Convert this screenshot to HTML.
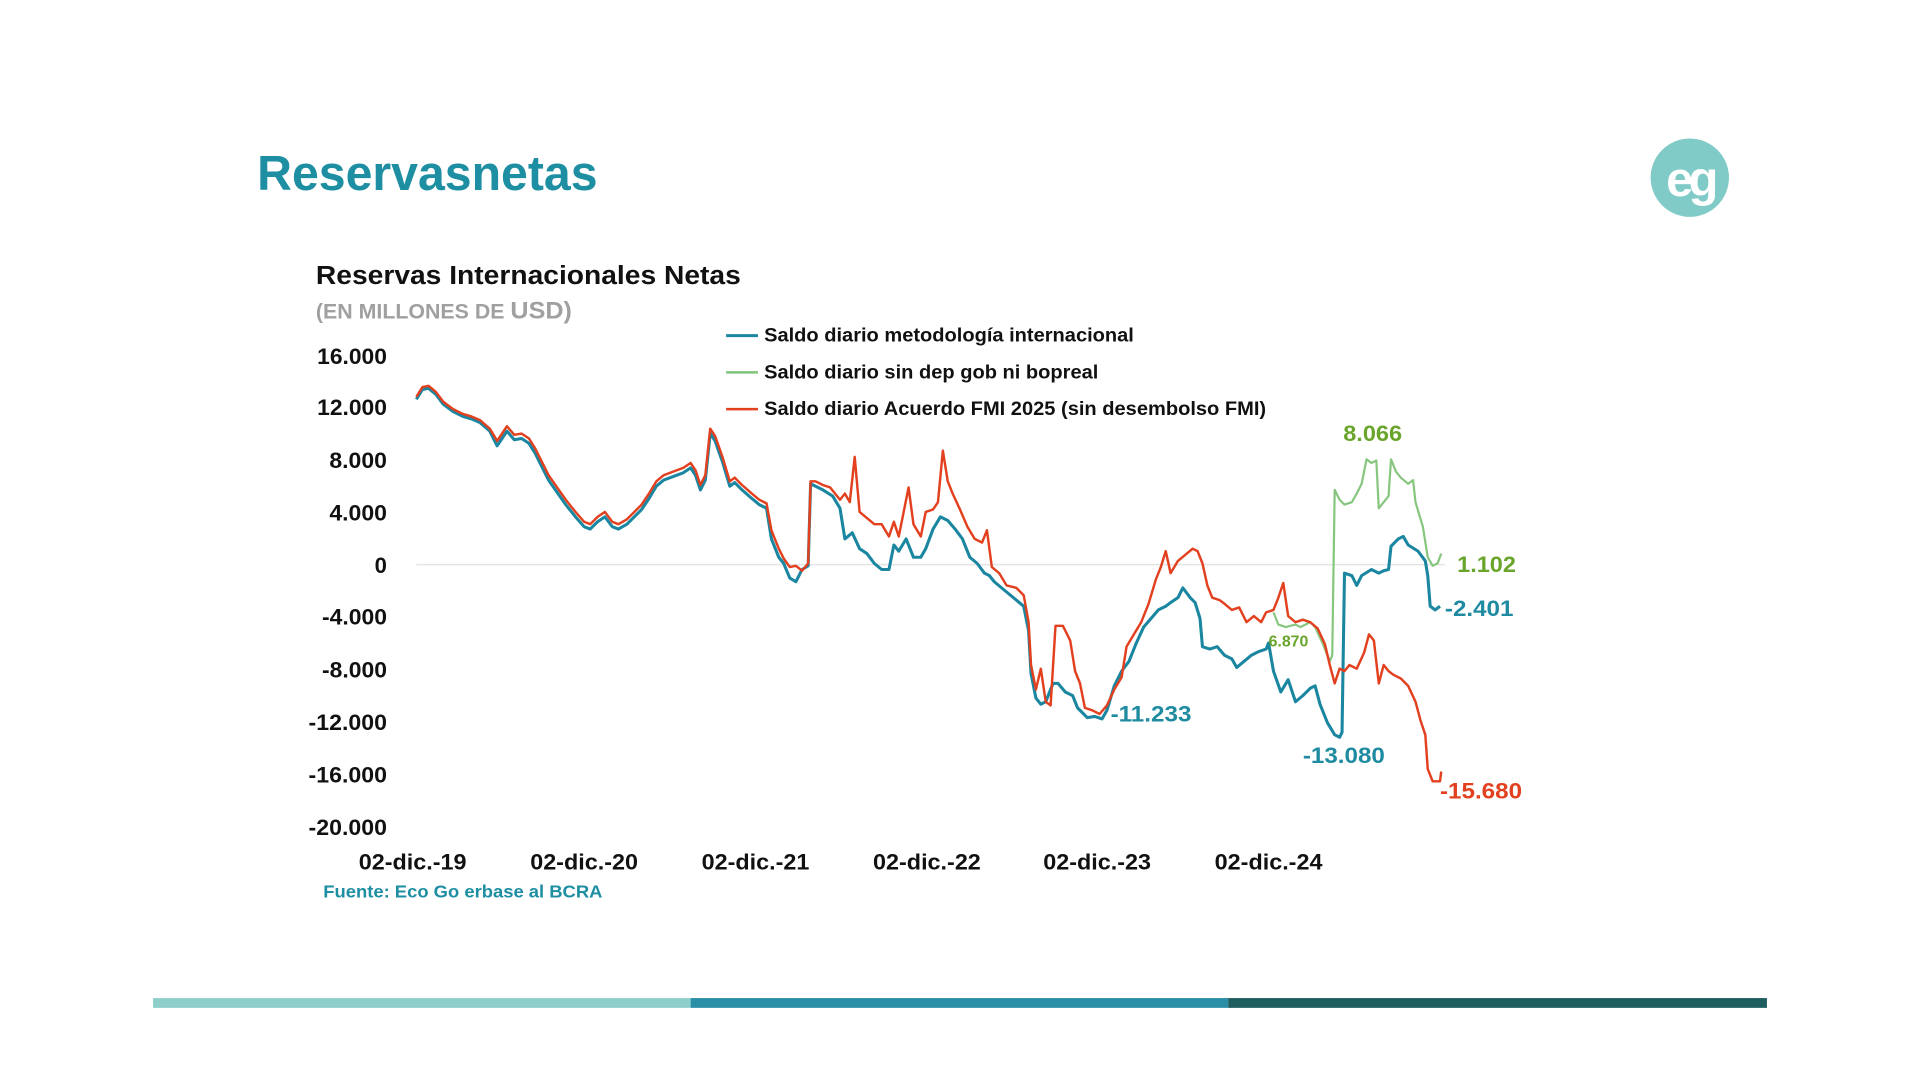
<!DOCTYPE html>
<html><head><meta charset="utf-8"><style>html,body{margin:0;padding:0;background:#fff;}svg{display:block}</style></head>
<body>
<svg width="1920" height="1079" viewBox="0 0 1568 881" xmlns="http://www.w3.org/2000/svg" font-family="Liberation Sans, Arial, sans-serif">
<rect width="1568" height="881" fill="#fff"/>
<text x="210" y="155" font-size="40" font-weight="bold" fill="#1e8ea2" textLength="278" lengthAdjust="spacingAndGlyphs">Reservasnetas</text>
<circle cx="1380" cy="145" r="32" fill="#80cac7"/>
<text x="1380" y="160" font-size="40" fill="#fff" text-anchor="middle" font-weight="bold" letter-spacing="-4">eg</text>
<text x="258" y="232" font-size="21" font-weight="bold" fill="#111" textLength="347" lengthAdjust="spacingAndGlyphs">Reservas Internacionales Netas</text>
<text x="258" y="260" font-size="17" font-weight="bold" fill="#a0a0a0" textLength="209" lengthAdjust="spacingAndGlyphs">(EN MILLONES DE <tspan font-size="20">USD)</tspan></text>
<g font-size="18" font-weight="bold" fill="#111" text-anchor="end">
<text x="316" y="297" textLength="57" lengthAdjust="spacingAndGlyphs">16.000</text><text x="316" y="339" textLength="57" lengthAdjust="spacingAndGlyphs">12.000</text><text x="316" y="382" textLength="47" lengthAdjust="spacingAndGlyphs">8.000</text><text x="316" y="425" textLength="47" lengthAdjust="spacingAndGlyphs">4.000</text><text x="316" y="468">0</text><text x="316" y="510" textLength="53" lengthAdjust="spacingAndGlyphs">-4.000</text><text x="316" y="553" textLength="53" lengthAdjust="spacingAndGlyphs">-8.000</text><text x="316" y="596" textLength="64" lengthAdjust="spacingAndGlyphs">-12.000</text><text x="316" y="639" textLength="64" lengthAdjust="spacingAndGlyphs">-16.000</text><text x="316" y="682" textLength="64" lengthAdjust="spacingAndGlyphs">-20.000</text>
</g>
<g font-size="18" font-weight="bold" fill="#111" text-anchor="middle">
<text x="337" y="710" textLength="88" lengthAdjust="spacingAndGlyphs">02-dic.-19</text><text x="477" y="710" textLength="88" lengthAdjust="spacingAndGlyphs">02-dic.-20</text><text x="617" y="710" textLength="88" lengthAdjust="spacingAndGlyphs">02-dic.-21</text><text x="757" y="710" textLength="88" lengthAdjust="spacingAndGlyphs">02-dic.-22</text><text x="896" y="710" textLength="88" lengthAdjust="spacingAndGlyphs">02-dic.-23</text><text x="1036" y="710" textLength="88" lengthAdjust="spacingAndGlyphs">02-dic.-24</text>
</g>
<line x1="340" y1="461" x2="1180" y2="461" stroke="#e4e4e4" stroke-width="1.2"/>
<text x="264" y="733" font-size="14" font-weight="bold" fill="#1e8ea2" textLength="228" lengthAdjust="spacingAndGlyphs">Fuente: Eco Go erbase al BCRA</text>
<g font-size="16" font-weight="bold" fill="#111">
<line x1="593" y1="274" x2="619" y2="274" stroke="#1a86a0" stroke-width="2.5"/><text x="624" y="279" textLength="302" lengthAdjust="spacingAndGlyphs">Saldo diario metodología internacional</text>
<line x1="593" y1="304" x2="619" y2="304" stroke="#7fc37a" stroke-width="2"/><text x="624" y="309" textLength="273" lengthAdjust="spacingAndGlyphs">Saldo diario sin dep gob ni bopreal</text>
<line x1="593" y1="334" x2="619" y2="334" stroke="#e2401f" stroke-width="2"/><text x="624" y="339" textLength="410" lengthAdjust="spacingAndGlyphs">Saldo diario Acuerdo FMI 2025 (sin desembolso FMI)</text>
</g>
<g fill="none" stroke-linejoin="round">
<polyline stroke="#86c67e" stroke-width="1.8" points="1040,500 1044,510 1050,512 1058,510 1062,512 1066,510 1070,508 1074,512 1080,525 1086,540 1088,535 1090,400 1094,408 1098,412 1104,410 1108,403 1112,395 1116,375 1120,378 1124,376 1126,415 1130,410 1134,405 1136,375 1140,385 1144,390 1150,395 1154,392 1156,410 1162,430 1166,455 1170,462 1174,460 1177,452"/>
<polyline stroke="#1a86a0" stroke-width="2.5" points="340,326 345,318 350,317 356,322 362,330 370,336 378,340 385,342 392,345 400,352 406,364 410,358 414,352 420,359 426,358 432,362 437,370 442,380 448,392 455,402 462,412 470,422 477,430 482,432 488,426 494,422 500,430 505,432 512,428 518,422 524,416 530,407 536,397 542,392 550,389 558,386 564,382 568,388 572,400 576,392 580,354 584,360 590,377 596,397 600,394 606,400 614,407 620,412 626,415 630,440 636,455 640,460 645,472 650,475 655,465 660,462 662,395 672,400 680,405 686,415 690,440 696,435 702,448 708,452 714,460 720,465 726,465 730,445 734,450 740,440 746,455 752,455 756,448 762,432 768,422 774,425 780,432 786,440 792,455 798,460 804,468 808,470 812,475 818,480 824,485 830,490 836,495 840,515 842,550 846,570 850,575 854,573 860,558 864,558 870,565 876,568 880,578 884,582 888,586 894,585 900,587 904,580 910,560 916,548 922,540 928,525 934,512 940,505 946,498 952,495 956,492 962,488 966,480 972,488 976,492 980,505 982,528 988,530 994,528 1000,535 1006,538 1010,545 1016,540 1022,535 1028,532 1034,530 1036,525 1040,548 1046,565 1052,555 1058,573 1064,568 1070,562 1074,560 1078,575 1084,590 1090,600 1094,602 1096,598 1098,468 1104,470 1108,478 1112,470 1120,465 1126,468 1130,466 1134,465 1136,446 1142,440 1146,438 1150,445 1158,450 1164,458 1166,470 1168,495 1172,498 1176,495"/>
<polyline stroke="#e2401f" stroke-width="2" points="340,324 345,316 350,315 356,320 362,328 370,334 378,338 385,340 392,343 400,350 406,360 410,354 414,348 420,355 426,354 432,358 437,366 442,376 448,388 455,398 462,408 470,418 477,426 482,428 488,422 494,418 500,426 505,428 512,424 518,418 524,412 530,403 536,393 542,388 550,385 558,382 564,378 568,384 572,396 576,388 580,350 584,356 590,373 596,393 600,390 606,396 614,403 620,408 626,411 630,433 636,448 640,456 645,463 650,462 655,466 660,460 662,393 666,393 672,396 678,398 686,408 690,403 694,410 698,373 702,418 708,423 714,428 720,428 726,438 730,426 734,438 738,418 742,398 746,428 752,438 756,418 762,416 766,410 770,368 774,393 778,403 784,416 790,430 796,440 802,443 806,433 810,463 816,468 822,478 830,480 836,486 840,508 842,543 846,563 850,546 854,573 858,576 862,511 868,511 874,523 878,548 882,558 886,578 892,580 898,583 904,576 910,563 916,553 920,528 926,518 932,508 938,493 944,473 948,463 952,450 956,468 962,458 968,453 974,448 978,450 982,460 986,478 990,488 996,490 1000,493 1006,498 1012,496 1018,508 1024,503 1030,508 1034,500 1040,498 1044,488 1048,476 1052,503 1058,508 1064,506 1070,508 1076,513 1082,526 1086,543 1090,558 1094,546 1098,548 1102,543 1108,546 1114,533 1118,518 1122,523 1126,558 1130,543 1134,548 1138,551 1144,554 1150,560 1156,573 1160,588 1164,600 1166,628 1170,638 1176,638 1177,630"/>
</g>
<g font-weight="bold" font-size="18">
<text x="1097" y="360" fill="#6aa52b" textLength="48" lengthAdjust="spacingAndGlyphs">8.066</text>
<text x="1190" y="467" fill="#6aa52b" textLength="48" lengthAdjust="spacingAndGlyphs">1.102</text>
<text x="1180" y="503" fill="#1f8ba0" textLength="56" lengthAdjust="spacingAndGlyphs">-2.401</text>
<text x="907" y="589" fill="#1f8ba0" textLength="66" lengthAdjust="spacingAndGlyphs">-11.233</text>
<text x="1064" y="623" fill="#1f8ba0" textLength="67" lengthAdjust="spacingAndGlyphs">-13.080</text>
<text x="1176" y="652" fill="#e2401f" textLength="67" lengthAdjust="spacingAndGlyphs">-15.680</text>
<text x="1036" y="528" fill="#6aa52b" font-size="13">6.870</text>
</g>
<rect x="125" y="815" width="439" height="8" fill="#8ecfcc"/>
<rect x="564" y="815" width="439" height="8" fill="#2a8fa6"/>
<rect x="1003" y="815" width="440" height="8" fill="#1e5e60"/>
</svg>
</body></html>
